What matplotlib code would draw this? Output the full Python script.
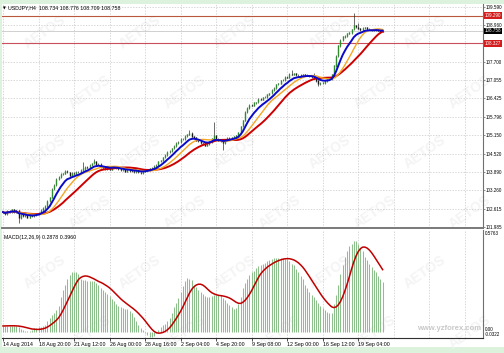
import numpy as np
import pandas as pd
import matplotlib.pyplot as plt
from matplotlib.patches import Rectangle

plt.rcParams['font.family'] = ['Liberation Sans', 'DejaVu Sans']

# USDJPY H4 closes, one per bar
closes = [
    102.50, 102.44, 102.53, 102.51, 102.58, 102.49, 102.55, 102.28, 102.42, 102.36,
    102.39, 102.31, 102.38, 102.35, 102.40, 102.44, 102.46, 102.56, 102.63, 102.70,
    102.88, 103.00, 103.29, 103.44, 103.64, 103.70, 103.81, 103.83, 103.92, 103.87,
    103.76, 103.84, 103.83, 103.88, 103.87, 103.95, 104.00, 104.05, 104.04, 104.12,
    104.18, 104.25, 104.14, 104.15, 104.05, 104.04, 104.00, 104.01, 103.97, 104.04,
    104.07, 104.01, 104.00, 103.94, 103.97, 103.90, 103.95, 103.93, 103.91, 103.88,
    103.93, 103.87, 103.86, 103.90, 103.94, 103.95, 104.01, 104.03, 104.08, 104.12,
    104.25, 104.28, 104.39, 104.46, 104.57, 104.60, 104.70, 104.78, 104.88, 104.91,
    105.02, 105.01, 105.12, 105.18, 105.22, 105.11, 105.07, 104.97, 104.94, 104.87,
    104.84, 104.80, 104.86, 104.93, 105.04, 105.15, 105.02, 104.97, 104.95, 104.88,
    104.98, 105.05, 105.04, 105.08, 105.11, 105.14, 105.24, 105.46, 105.66, 105.95,
    106.09, 106.19, 106.18, 106.28, 106.29, 106.40, 106.39, 106.46, 106.47, 106.56,
    106.60, 106.71, 106.78, 106.91, 106.94, 107.05, 107.06, 107.16, 107.15, 107.26,
    107.25, 107.29, 107.22, 107.23, 107.19, 107.25, 107.23, 107.22, 107.20, 107.18,
    107.13, 107.04, 106.92, 106.95, 106.97, 107.02, 107.08, 107.09, 107.25, 107.56,
    107.89, 108.25, 108.44, 108.56, 108.58, 108.67, 108.70, 108.81, 108.95, 108.88,
    108.84, 108.79, 108.85, 108.87, 108.82, 108.81, 108.78, 108.79, 108.81, 108.77,
    108.734, 108.758,
]
# visible wick extremes
spike_highs = {36: 104.22, 41: 104.33, 84: 105.34, 95: 105.61, 130: 107.42, 140: 107.30, 158: 109.38, 160: 109.02}
spike_lows = {7: 102.12, 99: 104.65, 142: 106.85, 148: 107.05}
last_ohlc = (108.734, 108.776, 108.709, 108.758)

macd_hist = [
    0.033, 0.034, 0.034, 0.035, 0.035, 0.033, 0.031, 0.026, 0.016, 0.011,
    0.006, 0.005, 0.005, 0.009, 0.020, 0.022, 0.025, 0.028, 0.030, 0.040,
    0.060, 0.077, 0.094, 0.110, 0.125, 0.150, 0.200, 0.240, 0.270, 0.300,
    0.325, 0.343, 0.345, 0.342, 0.330, 0.300, 0.297, 0.294, 0.290, 0.290,
    0.290, 0.290, 0.280, 0.265, 0.250, 0.240, 0.225, 0.215, 0.205, 0.190,
    0.175, 0.160, 0.150, 0.140, 0.137, 0.133, 0.130, 0.120, 0.105, 0.085,
    0.060, 0.040, 0.020, 0.010, -0.005, -0.018, -0.028, -0.032, -0.025, -0.008,
    0.010, 0.028, 0.040, 0.047, 0.060, 0.080, 0.105, 0.140, 0.165, 0.195,
    0.225, 0.260, 0.290, 0.310, 0.305, 0.295, 0.270, 0.255, 0.240, 0.225,
    0.215, 0.205, 0.200, 0.200, 0.205, 0.210, 0.210, 0.210, 0.210, 0.195,
    0.180, 0.165, 0.155, 0.140, 0.130, 0.135, 0.160, 0.200, 0.250, 0.280,
    0.305, 0.325, 0.340, 0.350, 0.365, 0.375, 0.383, 0.388, 0.395, 0.405,
    0.410, 0.415, 0.420, 0.422, 0.425, 0.424, 0.422, 0.418, 0.415, 0.405,
    0.390, 0.380, 0.360, 0.345, 0.320, 0.300, 0.270, 0.250, 0.230, 0.210,
    0.200, 0.180, 0.165, 0.150, 0.135, 0.125, 0.115, 0.110, 0.105, 0.160,
    0.210, 0.270, 0.330, 0.380, 0.430, 0.460, 0.490, 0.505, 0.520, 0.520,
    0.500, 0.480, 0.460, 0.430, 0.410, 0.390, 0.370, 0.355, 0.340, 0.320,
    0.300, 0.2878,
]
signal_last = 0.3960

price_ticks = [101.985, 102.615, 103.260, 103.890, 104.520, 105.150, 105.796,
               106.425, 107.055, 107.700, 108.330, 108.960, 109.590]
level_lines = [109.290, 108.327]
date_labels = ['14 Aug 2014', '18 Aug 20:00', '21 Aug 12:00', '26 Aug 00:00',
               '28 Aug 16:00', '2 Sep 04:00', '4 Sep 20:00', '9 Sep 08:00',
               '12 Sep 00:00', '16 Sep 12:00', '19 Sep 04:00']
bars_per_label = 16

n = len(closes)
x = np.arange(n)
c = np.array(closes)
o = np.r_[c[0], c[:-1]]
o[-1] = last_ohlc[0]
hi = np.maximum(o, c) + 0.03
lo = np.minimum(o, c) - 0.03
for k, v in spike_highs.items():
    hi[k] = v
for k, v in spike_lows.items():
    lo[k] = v
hi[-1], lo[-1] = last_ohlc[1], last_ohlc[2]

s = pd.Series(c)
ma_fast = s.ewm(span=8, adjust=True).mean()
ma_mid = s.rolling(13, min_periods=1).mean()
ma_slow = s.rolling(21, min_periods=1).mean()
signal = pd.Series(macd_hist).rolling(9, min_periods=1).mean()

W, H = 504, 353
fig = plt.figure(figsize=(W / 100, H / 100), dpi=100, facecolor='#dcf2dc')
fig.patches.append(Rectangle((2 / W, 6 / H), 1, 1 - 10 / H, transform=fig.transFigure,
                             facecolor='white', edgecolor='none', zorder=-3))

# faint broker watermarks, kept inside the picture
for row in range(6):
    fy = 1 - (row * 60 + 32) / H
    for col in range(5):
        fx = (col * 95 + (row % 2) * 45 + 45) / W
        fig.text(fx, fy, 'AETOS', fontsize=10, fontweight='bold', color='#f4f4f4',
                 rotation=35, ha='center', va='center', zorder=-2)
fig.text(481 / W, 1 - 328 / H, 'www.yzforex.com', fontsize=5.5, fontweight='bold',
         color='#c8c8c8', ha='right', va='center', zorder=-2)

xlim = (-0.45, 216.2)
grid_x = np.arange(0, 216, bars_per_label)
label_x = np.arange(len(date_labels)) * bars_per_label
fs = 3.8
fs_r = 3.25

ax = fig.add_axes([2 / W, 1 - 228 / H, 481 / W, 224 / H])
ax.set_facecolor('none')
ax.set_xlim(*xlim)
ax.set_ylim(101.95, 109.69)
for gx in grid_x:
    ax.axvline(gx, color='#c8c8c8', lw=0.5, ls=(0, (2, 2)), zorder=1)
for gy in price_ticks:
    ax.axhline(gy, color='#c8c8c8', lw=0.5, ls=(0, (2, 2)), zorder=1)
ax.axhline(last_ohlc[3], color='#d0d0d0', lw=0.7, zorder=1)
ax.axhline(level_lines[0], color='#b9573d', lw=0.8, zorder=2)
ax.axhline(level_lines[1], color='#c8505c', lw=0.8, zorder=2)

up = c >= o
ax.vlines(x, lo, hi, color='#1a1a1a', lw=0.45, zorder=3)
ax.vlines(x[up], o[up], c[up] + 0.01, color='#2e8b2e', lw=1.0, zorder=3)
ax.vlines(x[~up], c[~up], o[~up] + 0.01, color='#1a1a1a', lw=1.0, zorder=3)

ax.plot(x, ma_slow, color='#cc0000', lw=1.4, zorder=4)
ax.plot(x, ma_mid, color='#f5a623', lw=1.0, zorder=5)
ax.plot(x, ma_fast, color='#0a0ac8', lw=1.4, zorder=6)

ax.yaxis.tick_right()
ax.set_yticks(price_ticks)
ax.set_yticklabels(['' if abs(t - 108.33) < 0.01 else f'{t:.3f}' for t in price_ticks])
ax.tick_params(axis='y', labelsize=fs_r, length=1.5, width=0.5, pad=0.5, color='#606060')
ax.set_xticks([])
for sp in ['top', 'left']:
    ax.spines[sp].set_visible(False)
ax.spines['right'].set_color('#707070')
ax.spines['right'].set_linewidth(0.8)
ax.spines['bottom'].set_color('#707070')
ax.spines['bottom'].set_linewidth(1.3)

box_tf = ax.get_yaxis_transform()
for val, col in [(level_lines[0], '#d41c1c'), (level_lines[1], '#d41c1c'), (last_ohlc[3], '#000000')]:
    ax.text(1.004, val, f'{val:.3f}', transform=box_tf, fontsize=fs_r, color='white', va='center',
            ha='left', bbox=dict(boxstyle='square,pad=0.15', fc=col, ec='none'), zorder=10, clip_on=False)

ax.text(0.003, 0.99, '\u25bc', transform=ax.transAxes, fontsize=2.6, va='top', ha='left',
        family='DejaVu Sans')
ax.text(0.013, 0.993, 'USDJPY,H4  ' + ' '.join(f'{v:.3f}' for v in last_ohlc),
        transform=ax.transAxes, fontsize=fs, va='top', ha='left')

# MACD panel
bx = fig.add_axes([2 / W, 1 - 338 / H, 481 / W, 108 / H])
bx.set_facecolor('none')
bx.set_xlim(*xlim)
bx.set_ylim(-0.036, 0.583)
for gx in grid_x:
    bx.axvline(gx, color='#c8c8c8', lw=0.5, ls=(0, (2, 2)), zorder=1)
bx.vlines(x, 0, macd_hist, color='#8dbf8d', lw=0.75, zorder=2)
bx.plot(x, signal, color='#c00000', lw=1.1, zorder=3)
bx.text(0.005, 0.95, f'MACD(12,26,9) {macd_hist[-1]:.4f} {signal_last:.4f}',
        transform=bx.transAxes, fontsize=fs, va='top', ha='left')

bx.yaxis.tick_right()
bx.set_yticks([0.5763, 0.0, -0.0322])
bx.set_yticklabels(['0.5763', '0.00', '-0.0322'])
bx.tick_params(axis='y', labelsize=fs_r, length=0, pad=1.2)
labs = bx.get_yticklabels()
labs[0].set_va('top')
labs[1].set_va('bottom')
labs[2].set_va('bottom')
bx.set_xticks(label_x)
bx.set_xticklabels(date_labels, ha='left')
bx.tick_params(axis='x', labelsize=fs, length=2.2, width=0.6, pad=1, color='#303030')
for sp in ['top', 'left']:
    bx.spines[sp].set_visible(False)
bx.spines['right'].set_color('#707070')
bx.spines['right'].set_linewidth(0.8)
bx.spines['bottom'].set_color('#303030')
bx.spines['bottom'].set_linewidth(0.8)

fig.savefig('out.png', dpi=100, facecolor=fig.get_facecolor())
